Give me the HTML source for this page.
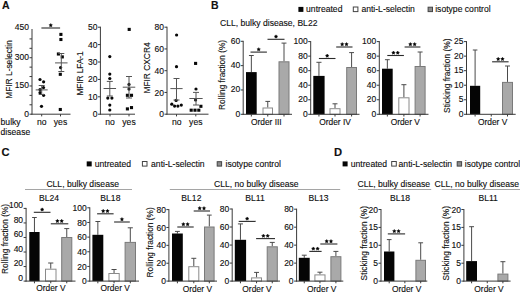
<!DOCTYPE html>
<html><head><meta charset="utf-8"><title>Figure</title>
<style>
html,body{margin:0;padding:0;background:#fff;}
body{width:520px;height:294px;overflow:hidden;}
svg{display:block;}
text{font-family:"Liberation Sans", sans-serif;stroke:#000;stroke-width:0.12px;}
</style></head>
<body>
<svg width="520" height="294" viewBox="0 0 520 294">
<rect x="0" y="0" width="520" height="294" fill="#fff"/>
<text x="1.90" y="9.10" font-size="10.5" text-anchor="start" font-weight="bold" fill="#111">A</text>
<text x="210.90" y="9.10" font-size="10.5" text-anchor="start" font-weight="bold" fill="#111">B</text>
<text x="1.60" y="155.80" font-size="11.2" text-anchor="start" font-weight="bold" fill="#111">C</text>
<text x="333.90" y="155.80" font-size="11.2" text-anchor="start" font-weight="bold" fill="#111">D</text>
<line x1="32.00" y1="29.00" x2="32.00" y2="114.70" stroke="#3a3a3a" stroke-width="1.0"/>
<line x1="29.50" y1="114.20" x2="32.00" y2="114.20" stroke="#3a3a3a" stroke-width="1.0"/>
<text x="29.00" y="116.56" font-size="8.5" text-anchor="end" font-weight="normal" fill="#111">0</text>
<line x1="29.50" y1="104.79" x2="32.00" y2="104.79" stroke="#3a3a3a" stroke-width="1.0"/>
<line x1="29.50" y1="95.38" x2="32.00" y2="95.38" stroke="#3a3a3a" stroke-width="1.0"/>
<line x1="29.50" y1="85.97" x2="32.00" y2="85.97" stroke="#3a3a3a" stroke-width="1.0"/>
<text x="29.00" y="88.33" font-size="8.5" text-anchor="end" font-weight="normal" fill="#111">150</text>
<line x1="29.50" y1="76.56" x2="32.00" y2="76.56" stroke="#3a3a3a" stroke-width="1.0"/>
<line x1="29.50" y1="67.14" x2="32.00" y2="67.14" stroke="#3a3a3a" stroke-width="1.0"/>
<line x1="29.50" y1="57.73" x2="32.00" y2="57.73" stroke="#3a3a3a" stroke-width="1.0"/>
<text x="29.00" y="60.09" font-size="8.5" text-anchor="end" font-weight="normal" fill="#111">300</text>
<line x1="29.50" y1="48.32" x2="32.00" y2="48.32" stroke="#3a3a3a" stroke-width="1.0"/>
<line x1="29.50" y1="38.91" x2="32.00" y2="38.91" stroke="#3a3a3a" stroke-width="1.0"/>
<text x="29.00" y="29.86" font-size="8.5" text-anchor="end" font-weight="normal" fill="#111">450</text>
<line x1="31.50" y1="114.20" x2="70.50" y2="114.20" stroke="#3a3a3a" stroke-width="1.0"/>
<line x1="41.70" y1="114.20" x2="41.70" y2="116.40" stroke="#3a3a3a" stroke-width="1.0"/>
<line x1="60.50" y1="114.20" x2="60.50" y2="116.40" stroke="#3a3a3a" stroke-width="1.0"/>
<text x="41.70" y="125.20" font-size="8.6" text-anchor="middle" font-weight="normal" fill="#111">no</text>
<text x="60.50" y="125.20" font-size="8.6" text-anchor="middle" font-weight="normal" fill="#111">yes</text>
<text x="0.60" y="125.40" font-size="8.6" text-anchor="start" font-weight="normal" fill="#111">bulky</text>
<text x="0.60" y="135.40" font-size="8.6" text-anchor="start" font-weight="normal" fill="#111">disease</text>
<text x="12.40" y="69.50" font-size="8.4" text-anchor="middle" font-weight="normal" fill="#111" transform="rotate(-90 12.40 69.50)">MFIR L-selectin</text>
<circle cx="40.00" cy="79.50" r="1.6" fill="#080808"/>
<circle cx="43.60" cy="81.80" r="1.6" fill="#080808"/>
<circle cx="43.50" cy="87.60" r="1.6" fill="#080808"/>
<circle cx="40.00" cy="89.60" r="1.6" fill="#080808"/>
<circle cx="40.00" cy="92.70" r="1.6" fill="#080808"/>
<circle cx="43.60" cy="95.30" r="1.6" fill="#080808"/>
<circle cx="41.50" cy="106.30" r="1.6" fill="#080808"/>
<line x1="35.70" y1="89.90" x2="47.70" y2="89.90" stroke="#555" stroke-width="1.0"/>
<line x1="41.70" y1="85.50" x2="41.70" y2="94.50" stroke="#555" stroke-width="1.0"/>
<line x1="38.70" y1="85.50" x2="44.70" y2="85.50" stroke="#555" stroke-width="1.0"/>
<line x1="38.70" y1="94.50" x2="44.70" y2="94.50" stroke="#555" stroke-width="1.0"/>
<rect x="59.35" y="32.85" width="3.1" height="3.1" fill="#080808"/>
<rect x="59.35" y="37.95" width="3.1" height="3.1" fill="#080808"/>
<rect x="56.85" y="52.45" width="3.1" height="3.1" fill="#080808"/>
<rect x="60.75" y="55.35" width="3.1" height="3.1" fill="#080808"/>
<rect x="58.75" y="72.75" width="3.1" height="3.1" fill="#080808"/>
<rect x="58.75" y="107.95" width="3.1" height="3.1" fill="#080808"/>
<circle cx="60.60" cy="67.60" r="1.6" fill="#080808"/>
<line x1="55.05" y1="62.90" x2="67.55" y2="62.90" stroke="#555" stroke-width="1.0"/>
<line x1="61.30" y1="53.50" x2="61.30" y2="71.50" stroke="#555" stroke-width="1.0"/>
<line x1="58.30" y1="53.50" x2="64.30" y2="53.50" stroke="#555" stroke-width="1.0"/>
<line x1="58.30" y1="71.50" x2="64.30" y2="71.50" stroke="#555" stroke-width="1.0"/>
<line x1="41.40" y1="28.00" x2="60.10" y2="28.00" stroke="#2a2a2a" stroke-width="1.1"/>
<polygon points="50.75,23.55 51.28,24.57 52.41,24.76 51.61,25.58 51.78,26.72 50.75,26.20 49.72,26.72 49.89,25.58 49.09,24.76 50.22,24.57" fill="#000" stroke="#000" stroke-width="0.5" stroke-linejoin="round"/>
<line x1="100.40" y1="26.70" x2="100.40" y2="114.70" stroke="#3a3a3a" stroke-width="1.0"/>
<line x1="97.90" y1="114.20" x2="100.40" y2="114.20" stroke="#3a3a3a" stroke-width="1.0"/>
<text x="97.40" y="117.26" font-size="8.5" text-anchor="end" font-weight="normal" fill="#111">0</text>
<line x1="97.90" y1="96.80" x2="100.40" y2="96.80" stroke="#3a3a3a" stroke-width="1.0"/>
<text x="97.40" y="99.86" font-size="8.5" text-anchor="end" font-weight="normal" fill="#111">10</text>
<line x1="97.90" y1="79.40" x2="100.40" y2="79.40" stroke="#3a3a3a" stroke-width="1.0"/>
<text x="97.40" y="82.46" font-size="8.5" text-anchor="end" font-weight="normal" fill="#111">20</text>
<line x1="97.90" y1="62.00" x2="100.40" y2="62.00" stroke="#3a3a3a" stroke-width="1.0"/>
<text x="97.40" y="65.06" font-size="8.5" text-anchor="end" font-weight="normal" fill="#111">30</text>
<line x1="97.90" y1="44.60" x2="100.40" y2="44.60" stroke="#3a3a3a" stroke-width="1.0"/>
<text x="97.40" y="47.66" font-size="8.5" text-anchor="end" font-weight="normal" fill="#111">40</text>
<line x1="97.90" y1="27.20" x2="100.40" y2="27.20" stroke="#3a3a3a" stroke-width="1.0"/>
<text x="97.40" y="30.26" font-size="8.5" text-anchor="end" font-weight="normal" fill="#111">50</text>
<line x1="99.90" y1="114.20" x2="135.00" y2="114.20" stroke="#3a3a3a" stroke-width="1.0"/>
<line x1="110.00" y1="114.20" x2="110.00" y2="116.40" stroke="#3a3a3a" stroke-width="1.0"/>
<line x1="129.00" y1="114.20" x2="129.00" y2="116.40" stroke="#3a3a3a" stroke-width="1.0"/>
<text x="110.00" y="125.20" font-size="8.6" text-anchor="middle" font-weight="normal" fill="#111">no</text>
<text x="129.00" y="125.20" font-size="8.6" text-anchor="middle" font-weight="normal" fill="#111">yes</text>
<text x="83.30" y="73.40" font-size="8.2" text-anchor="middle" font-weight="normal" fill="#111" transform="rotate(-90 83.30 73.40)">MFIR LFA-1</text>
<circle cx="109.80" cy="56.60" r="1.6" fill="#080808"/>
<circle cx="109.80" cy="74.10" r="1.6" fill="#080808"/>
<circle cx="109.80" cy="78.50" r="1.6" fill="#080808"/>
<circle cx="107.80" cy="98.10" r="1.6" fill="#080808"/>
<circle cx="111.90" cy="98.10" r="1.6" fill="#080808"/>
<circle cx="109.80" cy="105.10" r="1.6" fill="#080808"/>
<circle cx="109.80" cy="110.00" r="1.6" fill="#080808"/>
<line x1="103.55" y1="88.50" x2="116.05" y2="88.50" stroke="#555" stroke-width="1.0"/>
<line x1="109.80" y1="81.40" x2="109.80" y2="96.00" stroke="#555" stroke-width="1.0"/>
<line x1="106.80" y1="81.40" x2="112.80" y2="81.40" stroke="#555" stroke-width="1.0"/>
<line x1="106.80" y1="96.00" x2="112.80" y2="96.00" stroke="#555" stroke-width="1.0"/>
<rect x="127.65" y="27.85" width="3.1" height="3.1" fill="#080808"/>
<rect x="125.85" y="93.75" width="3.1" height="3.1" fill="#080808"/>
<rect x="129.95" y="93.75" width="3.1" height="3.1" fill="#080808"/>
<rect x="125.85" y="107.35" width="3.1" height="3.1" fill="#080808"/>
<rect x="129.95" y="106.05" width="3.1" height="3.1" fill="#080808"/>
<circle cx="129.00" cy="84.40" r="1.6" fill="#080808"/>
<circle cx="129.00" cy="89.10" r="1.6" fill="#080808"/>
<line x1="122.75" y1="87.20" x2="135.25" y2="87.20" stroke="#555" stroke-width="1.0"/>
<line x1="129.00" y1="76.50" x2="129.00" y2="98.00" stroke="#555" stroke-width="1.0"/>
<line x1="126.00" y1="76.50" x2="132.00" y2="76.50" stroke="#555" stroke-width="1.0"/>
<line x1="126.00" y1="98.00" x2="132.00" y2="98.00" stroke="#555" stroke-width="1.0"/>
<line x1="167.00" y1="26.70" x2="167.00" y2="114.70" stroke="#3a3a3a" stroke-width="1.0"/>
<line x1="164.50" y1="114.20" x2="167.00" y2="114.20" stroke="#3a3a3a" stroke-width="1.0"/>
<text x="164.00" y="117.26" font-size="8.5" text-anchor="end" font-weight="normal" fill="#111">0</text>
<line x1="164.50" y1="92.45" x2="167.00" y2="92.45" stroke="#3a3a3a" stroke-width="1.0"/>
<text x="164.00" y="95.51" font-size="8.5" text-anchor="end" font-weight="normal" fill="#111">20</text>
<line x1="164.50" y1="70.70" x2="167.00" y2="70.70" stroke="#3a3a3a" stroke-width="1.0"/>
<text x="164.00" y="73.76" font-size="8.5" text-anchor="end" font-weight="normal" fill="#111">40</text>
<line x1="164.50" y1="48.95" x2="167.00" y2="48.95" stroke="#3a3a3a" stroke-width="1.0"/>
<text x="164.00" y="52.01" font-size="8.5" text-anchor="end" font-weight="normal" fill="#111">60</text>
<line x1="164.50" y1="27.20" x2="167.00" y2="27.20" stroke="#3a3a3a" stroke-width="1.0"/>
<text x="164.00" y="30.26" font-size="8.5" text-anchor="end" font-weight="normal" fill="#111">80</text>
<line x1="166.50" y1="114.20" x2="208.50" y2="114.20" stroke="#3a3a3a" stroke-width="1.0"/>
<line x1="176.50" y1="114.20" x2="176.50" y2="116.40" stroke="#3a3a3a" stroke-width="1.0"/>
<line x1="195.80" y1="114.20" x2="195.80" y2="116.40" stroke="#3a3a3a" stroke-width="1.0"/>
<text x="176.80" y="125.20" font-size="8.6" text-anchor="middle" font-weight="normal" fill="#111">no</text>
<text x="195.80" y="125.20" font-size="8.6" text-anchor="middle" font-weight="normal" fill="#111">yes</text>
<text x="150.00" y="68.00" font-size="8.4" text-anchor="middle" font-weight="normal" fill="#111" transform="rotate(-90 150.00 68.00)">MFIR CXCR4</text>
<circle cx="176.60" cy="35.00" r="1.6" fill="#080808"/>
<circle cx="176.50" cy="66.70" r="1.6" fill="#080808"/>
<circle cx="176.10" cy="100.40" r="1.6" fill="#080808"/>
<circle cx="171.80" cy="104.20" r="1.6" fill="#080808"/>
<circle cx="174.60" cy="106.10" r="1.6" fill="#080808"/>
<circle cx="177.90" cy="106.10" r="1.6" fill="#080808"/>
<circle cx="181.30" cy="105.10" r="1.6" fill="#080808"/>
<line x1="170.40" y1="88.60" x2="182.60" y2="88.60" stroke="#555" stroke-width="1.0"/>
<line x1="176.50" y1="78.50" x2="176.50" y2="100.00" stroke="#555" stroke-width="1.0"/>
<line x1="173.50" y1="78.50" x2="179.50" y2="78.50" stroke="#555" stroke-width="1.0"/>
<line x1="173.50" y1="100.00" x2="179.50" y2="100.00" stroke="#555" stroke-width="1.0"/>
<rect x="194.05" y="61.85" width="3.1" height="3.1" fill="#080808"/>
<rect x="199.35" y="104.75" width="3.1" height="3.1" fill="#080808"/>
<rect x="189.65" y="108.65" width="3.1" height="3.1" fill="#080808"/>
<rect x="193.45" y="108.65" width="3.1" height="3.1" fill="#080808"/>
<rect x="197.25" y="108.65" width="3.1" height="3.1" fill="#080808"/>
<circle cx="196.00" cy="89.00" r="1.6" fill="#080808"/>
<circle cx="195.60" cy="100.00" r="1.6" fill="#080808"/>
<line x1="189.35" y1="98.50" x2="202.65" y2="98.50" stroke="#555" stroke-width="1.0"/>
<line x1="196.00" y1="92.40" x2="196.00" y2="105.00" stroke="#555" stroke-width="1.0"/>
<line x1="193.00" y1="92.40" x2="199.00" y2="92.40" stroke="#555" stroke-width="1.0"/>
<line x1="193.00" y1="105.00" x2="199.00" y2="105.00" stroke="#555" stroke-width="1.0"/>
<rect x="298.40" y="6.90" width="5.00" height="5.00" fill="#050505"/>
<text x="306.10" y="11.90" font-size="8.6" text-anchor="start" font-weight="normal" fill="#111">untreated</text>
<rect x="353.30" y="7.00" width="4.60" height="4.60" fill="#fff" stroke="#444" stroke-width="1.0"/>
<text x="361.40" y="11.90" font-size="8.6" text-anchor="start" font-weight="normal" fill="#111">anti-L-selectin</text>
<rect x="428.10" y="7.20" width="4.40" height="4.40" fill="#8c8c8c" stroke="#444" stroke-width="1.0"/>
<text x="435.20" y="11.90" font-size="8.6" text-anchor="start" font-weight="normal" fill="#111">isotype control</text>
<text x="220.00" y="25.80" font-size="8.6" text-anchor="start" font-weight="normal" fill="#111">CLL, bulky disease, BL22</text>
<line x1="243.20" y1="40.80" x2="243.20" y2="114.80" stroke="#3a3a3a" stroke-width="1.0"/>
<line x1="240.70" y1="114.30" x2="243.20" y2="114.30" stroke="#3a3a3a" stroke-width="1.0"/>
<text x="240.20" y="116.76" font-size="8.5" text-anchor="end" font-weight="normal" fill="#111">0</text>
<line x1="240.70" y1="89.97" x2="243.20" y2="89.97" stroke="#3a3a3a" stroke-width="1.0"/>
<text x="240.20" y="92.43" font-size="8.5" text-anchor="end" font-weight="normal" fill="#111">20</text>
<line x1="240.70" y1="65.63" x2="243.20" y2="65.63" stroke="#3a3a3a" stroke-width="1.0"/>
<text x="240.20" y="68.09" font-size="8.5" text-anchor="end" font-weight="normal" fill="#111">40</text>
<line x1="240.70" y1="41.30" x2="243.20" y2="41.30" stroke="#3a3a3a" stroke-width="1.0"/>
<text x="240.20" y="43.76" font-size="8.5" text-anchor="end" font-weight="normal" fill="#111">60</text>
<line x1="251.35" y1="55.50" x2="251.35" y2="72.10" stroke="#4a4a4a" stroke-width="1.0"/>
<line x1="248.94" y1="55.50" x2="253.76" y2="55.50" stroke="#4a4a4a" stroke-width="1.0"/>
<rect x="246.00" y="72.10" width="10.70" height="42.20" fill="#050505"/>
<line x1="267.75" y1="101.40" x2="267.75" y2="107.50" stroke="#4a4a4a" stroke-width="1.0"/>
<line x1="265.39" y1="101.40" x2="270.11" y2="101.40" stroke="#4a4a4a" stroke-width="1.0"/>
<rect x="263.00" y="108.00" width="9.50" height="6.30" fill="#fff" stroke="#8a8a8a" stroke-width="1.0"/>
<line x1="284.00" y1="43.10" x2="284.00" y2="61.30" stroke="#4a4a4a" stroke-width="1.0"/>
<line x1="281.52" y1="43.10" x2="286.48" y2="43.10" stroke="#4a4a4a" stroke-width="1.0"/>
<rect x="279.00" y="61.80" width="10.00" height="52.50" fill="#a9a9a9" stroke="#7a7a7a" stroke-width="1.0"/>
<line x1="242.70" y1="114.30" x2="292.00" y2="114.30" stroke="#3a3a3a" stroke-width="1.0"/>
<line x1="251.35" y1="114.30" x2="251.35" y2="116.50" stroke="#3a3a3a" stroke-width="1.0"/>
<line x1="267.75" y1="114.30" x2="267.75" y2="116.50" stroke="#3a3a3a" stroke-width="1.0"/>
<line x1="284.00" y1="114.30" x2="284.00" y2="116.50" stroke="#3a3a3a" stroke-width="1.0"/>
<line x1="250.50" y1="52.10" x2="266.90" y2="52.10" stroke="#2a2a2a" stroke-width="1.1"/>
<polygon points="258.70,47.65 259.23,48.67 260.36,48.86 259.56,49.68 259.73,50.82 258.70,50.30 257.67,50.82 257.84,49.68 257.04,48.86 258.17,48.67" fill="#000" stroke="#000" stroke-width="0.5" stroke-linejoin="round"/>
<line x1="267.50" y1="39.30" x2="284.50" y2="39.30" stroke="#2a2a2a" stroke-width="1.1"/>
<polygon points="276.00,34.85 276.53,35.87 277.66,36.06 276.86,36.88 277.03,38.02 276.00,37.50 274.97,38.02 275.14,36.88 274.34,36.06 275.47,35.87" fill="#000" stroke="#000" stroke-width="0.5" stroke-linejoin="round"/>
<text x="266.30" y="124.60" font-size="8.4" text-anchor="middle" font-weight="normal" fill="#111">Order III</text>
<text x="225.40" y="75.00" font-size="8.3" text-anchor="middle" font-weight="normal" fill="#111" transform="rotate(-90 225.40 75.00)">Rolling fraction (%)</text>
<line x1="310.70" y1="41.10" x2="310.70" y2="114.80" stroke="#3a3a3a" stroke-width="1.0"/>
<line x1="308.20" y1="114.30" x2="310.70" y2="114.30" stroke="#3a3a3a" stroke-width="1.0"/>
<text x="307.70" y="116.76" font-size="8.5" text-anchor="end" font-weight="normal" fill="#111">0</text>
<line x1="308.20" y1="99.76" x2="310.70" y2="99.76" stroke="#3a3a3a" stroke-width="1.0"/>
<text x="307.70" y="102.22" font-size="8.5" text-anchor="end" font-weight="normal" fill="#111">20</text>
<line x1="308.20" y1="85.22" x2="310.70" y2="85.22" stroke="#3a3a3a" stroke-width="1.0"/>
<text x="307.70" y="87.68" font-size="8.5" text-anchor="end" font-weight="normal" fill="#111">40</text>
<line x1="308.20" y1="70.68" x2="310.70" y2="70.68" stroke="#3a3a3a" stroke-width="1.0"/>
<text x="307.70" y="73.14" font-size="8.5" text-anchor="end" font-weight="normal" fill="#111">60</text>
<line x1="308.20" y1="56.14" x2="310.70" y2="56.14" stroke="#3a3a3a" stroke-width="1.0"/>
<text x="307.70" y="58.60" font-size="8.5" text-anchor="end" font-weight="normal" fill="#111">80</text>
<line x1="308.20" y1="41.60" x2="310.70" y2="41.60" stroke="#3a3a3a" stroke-width="1.0"/>
<text x="307.70" y="44.06" font-size="8.5" text-anchor="end" font-weight="normal" fill="#111">100</text>
<line x1="318.95" y1="62.30" x2="318.95" y2="75.90" stroke="#4a4a4a" stroke-width="1.0"/>
<line x1="316.41" y1="62.30" x2="321.49" y2="62.30" stroke="#4a4a4a" stroke-width="1.0"/>
<rect x="313.30" y="75.90" width="11.30" height="38.40" fill="#050505"/>
<line x1="335.00" y1="103.80" x2="335.00" y2="108.20" stroke="#4a4a4a" stroke-width="1.0"/>
<line x1="332.52" y1="103.80" x2="337.48" y2="103.80" stroke="#4a4a4a" stroke-width="1.0"/>
<rect x="330.00" y="108.70" width="10.00" height="5.60" fill="#fff" stroke="#8a8a8a" stroke-width="1.0"/>
<line x1="351.60" y1="52.60" x2="351.60" y2="67.00" stroke="#4a4a4a" stroke-width="1.0"/>
<line x1="349.17" y1="52.60" x2="354.03" y2="52.60" stroke="#4a4a4a" stroke-width="1.0"/>
<rect x="346.70" y="67.50" width="9.80" height="46.80" fill="#a9a9a9" stroke="#7a7a7a" stroke-width="1.0"/>
<line x1="310.20" y1="114.30" x2="359.50" y2="114.30" stroke="#3a3a3a" stroke-width="1.0"/>
<line x1="318.95" y1="114.30" x2="318.95" y2="116.50" stroke="#3a3a3a" stroke-width="1.0"/>
<line x1="335.00" y1="114.30" x2="335.00" y2="116.50" stroke="#3a3a3a" stroke-width="1.0"/>
<line x1="351.60" y1="114.30" x2="351.60" y2="116.50" stroke="#3a3a3a" stroke-width="1.0"/>
<line x1="318.90" y1="58.50" x2="335.50" y2="58.50" stroke="#2a2a2a" stroke-width="1.1"/>
<polygon points="327.20,54.05 327.73,55.07 328.86,55.26 328.06,56.08 328.23,57.22 327.20,56.70 326.17,57.22 326.34,56.08 325.54,55.26 326.67,55.07" fill="#000" stroke="#000" stroke-width="0.5" stroke-linejoin="round"/>
<line x1="336.20" y1="47.00" x2="352.50" y2="47.00" stroke="#2a2a2a" stroke-width="1.1"/>
<polygon points="342.20,42.55 342.73,43.57 343.86,43.76 343.06,44.58 343.23,45.72 342.20,45.20 341.17,45.72 341.34,44.58 340.54,43.76 341.67,43.57" fill="#000" stroke="#000" stroke-width="0.5" stroke-linejoin="round"/>
<polygon points="346.50,42.55 347.03,43.57 348.16,43.76 347.36,44.58 347.53,45.72 346.50,45.20 345.47,45.72 345.64,44.58 344.84,43.76 345.97,43.57" fill="#000" stroke="#000" stroke-width="0.5" stroke-linejoin="round"/>
<text x="335.00" y="124.60" font-size="8.4" text-anchor="middle" font-weight="normal" fill="#111">Order IV</text>
<line x1="379.30" y1="41.10" x2="379.30" y2="114.80" stroke="#3a3a3a" stroke-width="1.0"/>
<line x1="376.80" y1="114.30" x2="379.30" y2="114.30" stroke="#3a3a3a" stroke-width="1.0"/>
<text x="376.30" y="116.76" font-size="8.5" text-anchor="end" font-weight="normal" fill="#111">0</text>
<line x1="376.80" y1="99.76" x2="379.30" y2="99.76" stroke="#3a3a3a" stroke-width="1.0"/>
<text x="376.30" y="102.22" font-size="8.5" text-anchor="end" font-weight="normal" fill="#111">20</text>
<line x1="376.80" y1="85.22" x2="379.30" y2="85.22" stroke="#3a3a3a" stroke-width="1.0"/>
<text x="376.30" y="87.68" font-size="8.5" text-anchor="end" font-weight="normal" fill="#111">40</text>
<line x1="376.80" y1="70.68" x2="379.30" y2="70.68" stroke="#3a3a3a" stroke-width="1.0"/>
<text x="376.30" y="73.14" font-size="8.5" text-anchor="end" font-weight="normal" fill="#111">60</text>
<line x1="376.80" y1="56.14" x2="379.30" y2="56.14" stroke="#3a3a3a" stroke-width="1.0"/>
<text x="376.30" y="58.60" font-size="8.5" text-anchor="end" font-weight="normal" fill="#111">80</text>
<line x1="376.80" y1="41.60" x2="379.30" y2="41.60" stroke="#3a3a3a" stroke-width="1.0"/>
<text x="376.30" y="44.06" font-size="8.5" text-anchor="end" font-weight="normal" fill="#111">100</text>
<line x1="387.35" y1="59.70" x2="387.35" y2="68.70" stroke="#4a4a4a" stroke-width="1.0"/>
<line x1="384.94" y1="59.70" x2="389.76" y2="59.70" stroke="#4a4a4a" stroke-width="1.0"/>
<rect x="382.00" y="68.70" width="10.70" height="45.60" fill="#050505"/>
<line x1="403.90" y1="84.70" x2="403.90" y2="97.30" stroke="#4a4a4a" stroke-width="1.0"/>
<line x1="401.38" y1="84.70" x2="406.42" y2="84.70" stroke="#4a4a4a" stroke-width="1.0"/>
<rect x="398.80" y="97.80" width="10.20" height="16.50" fill="#fff" stroke="#8a8a8a" stroke-width="1.0"/>
<line x1="420.10" y1="52.00" x2="420.10" y2="66.00" stroke="#4a4a4a" stroke-width="1.0"/>
<line x1="417.62" y1="52.00" x2="422.58" y2="52.00" stroke="#4a4a4a" stroke-width="1.0"/>
<rect x="415.10" y="66.50" width="10.00" height="47.80" fill="#a9a9a9" stroke="#7a7a7a" stroke-width="1.0"/>
<line x1="378.80" y1="114.30" x2="428.50" y2="114.30" stroke="#3a3a3a" stroke-width="1.0"/>
<line x1="387.35" y1="114.30" x2="387.35" y2="116.50" stroke="#3a3a3a" stroke-width="1.0"/>
<line x1="403.90" y1="114.30" x2="403.90" y2="116.50" stroke="#3a3a3a" stroke-width="1.0"/>
<line x1="420.10" y1="114.30" x2="420.10" y2="116.50" stroke="#3a3a3a" stroke-width="1.0"/>
<line x1="387.30" y1="55.50" x2="403.90" y2="55.50" stroke="#2a2a2a" stroke-width="1.1"/>
<polygon points="393.45,51.05 393.98,52.07 395.11,52.26 394.31,53.08 394.48,54.22 393.45,53.70 392.42,54.22 392.59,53.08 391.79,52.26 392.92,52.07" fill="#000" stroke="#000" stroke-width="0.5" stroke-linejoin="round"/>
<polygon points="397.75,51.05 398.28,52.07 399.41,52.26 398.61,53.08 398.78,54.22 397.75,53.70 396.72,54.22 396.89,53.08 396.09,52.26 397.22,52.07" fill="#000" stroke="#000" stroke-width="0.5" stroke-linejoin="round"/>
<line x1="404.60" y1="47.00" x2="420.40" y2="47.00" stroke="#2a2a2a" stroke-width="1.1"/>
<polygon points="410.35,42.55 410.88,43.57 412.01,43.76 411.21,44.58 411.38,45.72 410.35,45.20 409.32,45.72 409.49,44.58 408.69,43.76 409.82,43.57" fill="#000" stroke="#000" stroke-width="0.5" stroke-linejoin="round"/>
<polygon points="414.65,42.55 415.18,43.57 416.31,43.76 415.51,44.58 415.68,45.72 414.65,45.20 413.62,45.72 413.79,44.58 412.99,43.76 414.12,43.57" fill="#000" stroke="#000" stroke-width="0.5" stroke-linejoin="round"/>
<text x="405.30" y="124.60" font-size="8.4" text-anchor="middle" font-weight="normal" fill="#111">Order V</text>
<line x1="466.50" y1="41.10" x2="466.50" y2="114.80" stroke="#3a3a3a" stroke-width="1.0"/>
<line x1="464.00" y1="114.30" x2="466.50" y2="114.30" stroke="#3a3a3a" stroke-width="1.0"/>
<text x="463.50" y="116.76" font-size="8.5" text-anchor="end" font-weight="normal" fill="#111">0</text>
<line x1="464.00" y1="99.76" x2="466.50" y2="99.76" stroke="#3a3a3a" stroke-width="1.0"/>
<text x="463.50" y="102.22" font-size="8.5" text-anchor="end" font-weight="normal" fill="#111">5</text>
<line x1="464.00" y1="85.22" x2="466.50" y2="85.22" stroke="#3a3a3a" stroke-width="1.0"/>
<text x="463.50" y="87.68" font-size="8.5" text-anchor="end" font-weight="normal" fill="#111">10</text>
<line x1="464.00" y1="70.68" x2="466.50" y2="70.68" stroke="#3a3a3a" stroke-width="1.0"/>
<text x="463.50" y="73.14" font-size="8.5" text-anchor="end" font-weight="normal" fill="#111">15</text>
<line x1="464.00" y1="56.14" x2="466.50" y2="56.14" stroke="#3a3a3a" stroke-width="1.0"/>
<text x="463.50" y="58.60" font-size="8.5" text-anchor="end" font-weight="normal" fill="#111">20</text>
<line x1="464.00" y1="41.60" x2="466.50" y2="41.60" stroke="#3a3a3a" stroke-width="1.0"/>
<text x="463.50" y="44.06" font-size="8.5" text-anchor="end" font-weight="normal" fill="#111">25</text>
<line x1="475.10" y1="50.00" x2="475.10" y2="85.80" stroke="#4a4a4a" stroke-width="1.0"/>
<line x1="472.81" y1="50.00" x2="477.40" y2="50.00" stroke="#4a4a4a" stroke-width="1.0"/>
<rect x="470.00" y="85.80" width="10.20" height="28.50" fill="#050505"/>
<rect x="486.50" y="114.80" width="9.50" height="-0.50" fill="#fff" stroke="#8a8a8a" stroke-width="1.0"/>
<line x1="507.50" y1="66.00" x2="507.50" y2="81.90" stroke="#4a4a4a" stroke-width="1.0"/>
<line x1="505.02" y1="66.00" x2="509.98" y2="66.00" stroke="#4a4a4a" stroke-width="1.0"/>
<rect x="502.50" y="82.40" width="10.00" height="31.90" fill="#a9a9a9" stroke="#7a7a7a" stroke-width="1.0"/>
<line x1="466.00" y1="114.30" x2="515.70" y2="114.30" stroke="#3a3a3a" stroke-width="1.0"/>
<line x1="475.10" y1="114.30" x2="475.10" y2="116.50" stroke="#3a3a3a" stroke-width="1.0"/>
<line x1="491.25" y1="114.30" x2="491.25" y2="116.50" stroke="#3a3a3a" stroke-width="1.0"/>
<line x1="507.50" y1="114.30" x2="507.50" y2="116.50" stroke="#3a3a3a" stroke-width="1.0"/>
<line x1="492.10" y1="61.80" x2="508.60" y2="61.80" stroke="#2a2a2a" stroke-width="1.1"/>
<polygon points="498.20,57.35 498.73,58.37 499.86,58.56 499.06,59.38 499.23,60.52 498.20,60.00 497.17,60.52 497.34,59.38 496.54,58.56 497.67,58.37" fill="#000" stroke="#000" stroke-width="0.5" stroke-linejoin="round"/>
<polygon points="502.50,57.35 503.03,58.37 504.16,58.56 503.36,59.38 503.53,60.52 502.50,60.00 501.47,60.52 501.64,59.38 500.84,58.56 501.97,58.37" fill="#000" stroke="#000" stroke-width="0.5" stroke-linejoin="round"/>
<text x="492.60" y="124.60" font-size="8.4" text-anchor="middle" font-weight="normal" fill="#111">Order V</text>
<text x="449.80" y="75.70" font-size="8.4" text-anchor="middle" font-weight="normal" fill="#111" transform="rotate(-90 449.80 75.70)">Sticking fraction (%)</text>
<rect x="86.70" y="161.40" width="5.00" height="5.00" fill="#050505"/>
<text x="94.70" y="166.90" font-size="8.6" text-anchor="start" font-weight="normal" fill="#111">untreated</text>
<rect x="142.40" y="161.50" width="4.60" height="4.60" fill="#fff" stroke="#444" stroke-width="1.0"/>
<text x="151.10" y="166.90" font-size="8.6" text-anchor="start" font-weight="normal" fill="#111">anti-L-selectin</text>
<rect x="217.20" y="161.70" width="4.40" height="4.40" fill="#8c8c8c" stroke="#444" stroke-width="1.0"/>
<text x="225.50" y="166.90" font-size="8.6" text-anchor="start" font-weight="normal" fill="#111">isotype control</text>
<text x="82.70" y="187.00" font-size="8.6" text-anchor="middle" font-weight="normal" fill="#111">CLL, bulky disease</text>
<line x1="25.00" y1="189.50" x2="132.00" y2="189.50" stroke="#a5a5a5" stroke-width="1.0"/>
<text x="256.30" y="187.00" font-size="8.6" text-anchor="middle" font-weight="normal" fill="#111">CLL, no bulky disease</text>
<line x1="169.80" y1="189.50" x2="340.20" y2="189.50" stroke="#a5a5a5" stroke-width="1.0"/>
<text x="49.00" y="200.60" font-size="8.6" text-anchor="middle" font-weight="normal" fill="#111">BL24</text>
<line x1="26.10" y1="207.90" x2="26.10" y2="281.60" stroke="#3a3a3a" stroke-width="1.0"/>
<line x1="23.60" y1="281.10" x2="26.10" y2="281.10" stroke="#3a3a3a" stroke-width="1.0"/>
<text x="23.10" y="280.76" font-size="8.5" text-anchor="end" font-weight="normal" fill="#111">0</text>
<line x1="23.60" y1="266.56" x2="26.10" y2="266.56" stroke="#3a3a3a" stroke-width="1.0"/>
<text x="23.10" y="266.22" font-size="8.5" text-anchor="end" font-weight="normal" fill="#111">20</text>
<line x1="23.60" y1="252.02" x2="26.10" y2="252.02" stroke="#3a3a3a" stroke-width="1.0"/>
<text x="23.10" y="251.68" font-size="8.5" text-anchor="end" font-weight="normal" fill="#111">40</text>
<line x1="23.60" y1="237.48" x2="26.10" y2="237.48" stroke="#3a3a3a" stroke-width="1.0"/>
<text x="23.10" y="237.14" font-size="8.5" text-anchor="end" font-weight="normal" fill="#111">60</text>
<line x1="23.60" y1="222.94" x2="26.10" y2="222.94" stroke="#3a3a3a" stroke-width="1.0"/>
<text x="23.10" y="222.60" font-size="8.5" text-anchor="end" font-weight="normal" fill="#111">80</text>
<line x1="23.60" y1="208.40" x2="26.10" y2="208.40" stroke="#3a3a3a" stroke-width="1.0"/>
<text x="23.10" y="208.06" font-size="8.5" text-anchor="end" font-weight="normal" fill="#111">100</text>
<line x1="34.45" y1="217.50" x2="34.45" y2="232.00" stroke="#4a4a4a" stroke-width="1.0"/>
<line x1="32.13" y1="217.50" x2="36.77" y2="217.50" stroke="#4a4a4a" stroke-width="1.0"/>
<rect x="29.30" y="232.00" width="10.30" height="49.10" fill="#050505"/>
<line x1="50.75" y1="263.00" x2="50.75" y2="268.70" stroke="#4a4a4a" stroke-width="1.0"/>
<line x1="48.16" y1="263.00" x2="53.34" y2="263.00" stroke="#4a4a4a" stroke-width="1.0"/>
<rect x="45.50" y="269.20" width="10.50" height="11.90" fill="#fff" stroke="#8a8a8a" stroke-width="1.0"/>
<line x1="66.75" y1="228.60" x2="66.75" y2="237.00" stroke="#4a4a4a" stroke-width="1.0"/>
<line x1="64.25" y1="228.60" x2="69.25" y2="228.60" stroke="#4a4a4a" stroke-width="1.0"/>
<rect x="61.70" y="237.50" width="10.10" height="43.60" fill="#a9a9a9" stroke="#7a7a7a" stroke-width="1.0"/>
<line x1="25.60" y1="281.10" x2="75.50" y2="281.10" stroke="#3a3a3a" stroke-width="1.0"/>
<line x1="34.45" y1="281.10" x2="34.45" y2="283.30" stroke="#3a3a3a" stroke-width="1.0"/>
<line x1="50.75" y1="281.10" x2="50.75" y2="283.30" stroke="#3a3a3a" stroke-width="1.0"/>
<line x1="66.75" y1="281.10" x2="66.75" y2="283.30" stroke="#3a3a3a" stroke-width="1.0"/>
<line x1="33.80" y1="212.30" x2="50.50" y2="212.30" stroke="#2a2a2a" stroke-width="1.1"/>
<polygon points="42.15,207.85 42.68,208.87 43.81,209.06 43.01,209.88 43.18,211.02 42.15,210.50 41.12,211.02 41.29,209.88 40.49,209.06 41.62,208.87" fill="#000" stroke="#000" stroke-width="0.5" stroke-linejoin="round"/>
<line x1="50.80" y1="223.80" x2="68.30" y2="223.80" stroke="#2a2a2a" stroke-width="1.1"/>
<polygon points="57.40,219.35 57.93,220.37 59.06,220.56 58.26,221.38 58.43,222.52 57.40,222.00 56.37,222.52 56.54,221.38 55.74,220.56 56.87,220.37" fill="#000" stroke="#000" stroke-width="0.5" stroke-linejoin="round"/>
<polygon points="61.70,219.35 62.23,220.37 63.36,220.56 62.56,221.38 62.73,222.52 61.70,222.00 60.67,222.52 60.84,221.38 60.04,220.56 61.17,220.37" fill="#000" stroke="#000" stroke-width="0.5" stroke-linejoin="round"/>
<text x="50.90" y="291.40" font-size="8.4" text-anchor="middle" font-weight="normal" fill="#111">Order V</text>
<text x="7.60" y="239.00" font-size="8.3" text-anchor="middle" font-weight="normal" fill="#111" transform="rotate(-90 7.60 239.00)">Rolling fraction (%)</text>
<text x="110.40" y="200.60" font-size="8.6" text-anchor="middle" font-weight="normal" fill="#111">BL18</text>
<line x1="89.80" y1="207.30" x2="89.80" y2="281.60" stroke="#3a3a3a" stroke-width="1.0"/>
<line x1="87.30" y1="281.10" x2="89.80" y2="281.10" stroke="#3a3a3a" stroke-width="1.0"/>
<text x="86.80" y="284.16" font-size="8.5" text-anchor="end" font-weight="normal" fill="#111">0</text>
<line x1="87.30" y1="266.44" x2="89.80" y2="266.44" stroke="#3a3a3a" stroke-width="1.0"/>
<text x="86.80" y="269.50" font-size="8.5" text-anchor="end" font-weight="normal" fill="#111">20</text>
<line x1="87.30" y1="251.78" x2="89.80" y2="251.78" stroke="#3a3a3a" stroke-width="1.0"/>
<text x="86.80" y="254.84" font-size="8.5" text-anchor="end" font-weight="normal" fill="#111">40</text>
<line x1="87.30" y1="237.12" x2="89.80" y2="237.12" stroke="#3a3a3a" stroke-width="1.0"/>
<text x="86.80" y="240.18" font-size="8.5" text-anchor="end" font-weight="normal" fill="#111">60</text>
<line x1="87.30" y1="222.46" x2="89.80" y2="222.46" stroke="#3a3a3a" stroke-width="1.0"/>
<text x="86.80" y="225.52" font-size="8.5" text-anchor="end" font-weight="normal" fill="#111">80</text>
<line x1="87.30" y1="207.80" x2="89.80" y2="207.80" stroke="#3a3a3a" stroke-width="1.0"/>
<text x="86.80" y="210.86" font-size="8.5" text-anchor="end" font-weight="normal" fill="#111">100</text>
<line x1="97.85" y1="221.50" x2="97.85" y2="234.80" stroke="#4a4a4a" stroke-width="1.0"/>
<line x1="95.40" y1="221.50" x2="100.30" y2="221.50" stroke="#4a4a4a" stroke-width="1.0"/>
<rect x="92.40" y="234.80" width="10.90" height="46.30" fill="#050505"/>
<line x1="114.05" y1="269.50" x2="114.05" y2="273.00" stroke="#4a4a4a" stroke-width="1.0"/>
<line x1="111.51" y1="269.50" x2="116.59" y2="269.50" stroke="#4a4a4a" stroke-width="1.0"/>
<rect x="108.90" y="273.50" width="10.30" height="7.60" fill="#fff" stroke="#8a8a8a" stroke-width="1.0"/>
<line x1="130.30" y1="227.80" x2="130.30" y2="241.90" stroke="#4a4a4a" stroke-width="1.0"/>
<line x1="127.74" y1="227.80" x2="132.87" y2="227.80" stroke="#4a4a4a" stroke-width="1.0"/>
<rect x="125.10" y="242.40" width="10.40" height="38.70" fill="#a9a9a9" stroke="#7a7a7a" stroke-width="1.0"/>
<line x1="89.30" y1="281.10" x2="139.00" y2="281.10" stroke="#3a3a3a" stroke-width="1.0"/>
<line x1="97.85" y1="281.10" x2="97.85" y2="283.30" stroke="#3a3a3a" stroke-width="1.0"/>
<line x1="114.05" y1="281.10" x2="114.05" y2="283.30" stroke="#3a3a3a" stroke-width="1.0"/>
<line x1="130.30" y1="281.10" x2="130.30" y2="283.30" stroke="#3a3a3a" stroke-width="1.0"/>
<line x1="97.10" y1="213.80" x2="113.60" y2="213.80" stroke="#2a2a2a" stroke-width="1.1"/>
<polygon points="103.20,209.35 103.73,210.37 104.86,210.56 104.06,211.38 104.23,212.52 103.20,212.00 102.17,212.52 102.34,211.38 101.54,210.56 102.67,210.37" fill="#000" stroke="#000" stroke-width="0.5" stroke-linejoin="round"/>
<polygon points="107.50,209.35 108.03,210.37 109.16,210.56 108.36,211.38 108.53,212.52 107.50,212.00 106.47,212.52 106.64,211.38 105.84,210.56 106.97,210.37" fill="#000" stroke="#000" stroke-width="0.5" stroke-linejoin="round"/>
<line x1="114.10" y1="222.00" x2="129.80" y2="222.00" stroke="#2a2a2a" stroke-width="1.1"/>
<polygon points="121.95,217.55 122.48,218.57 123.61,218.76 122.81,219.58 122.98,220.72 121.95,220.20 120.92,220.72 121.09,219.58 120.29,218.76 121.42,218.57" fill="#000" stroke="#000" stroke-width="0.5" stroke-linejoin="round"/>
<text x="115.20" y="291.40" font-size="8.4" text-anchor="middle" font-weight="normal" fill="#111">Order V</text>
<text x="191.40" y="200.60" font-size="8.6" text-anchor="middle" font-weight="normal" fill="#111">BL12</text>
<line x1="168.90" y1="209.10" x2="168.90" y2="281.60" stroke="#3a3a3a" stroke-width="1.0"/>
<line x1="166.40" y1="281.10" x2="168.90" y2="281.10" stroke="#3a3a3a" stroke-width="1.0"/>
<text x="165.90" y="284.16" font-size="8.5" text-anchor="end" font-weight="normal" fill="#111">0</text>
<line x1="166.40" y1="263.23" x2="168.90" y2="263.23" stroke="#3a3a3a" stroke-width="1.0"/>
<text x="165.90" y="266.29" font-size="8.5" text-anchor="end" font-weight="normal" fill="#111">20</text>
<line x1="166.40" y1="245.35" x2="168.90" y2="245.35" stroke="#3a3a3a" stroke-width="1.0"/>
<text x="165.90" y="248.41" font-size="8.5" text-anchor="end" font-weight="normal" fill="#111">40</text>
<line x1="166.40" y1="227.47" x2="168.90" y2="227.47" stroke="#3a3a3a" stroke-width="1.0"/>
<text x="165.90" y="230.53" font-size="8.5" text-anchor="end" font-weight="normal" fill="#111">60</text>
<line x1="166.40" y1="209.60" x2="168.90" y2="209.60" stroke="#3a3a3a" stroke-width="1.0"/>
<text x="165.90" y="212.66" font-size="8.5" text-anchor="end" font-weight="normal" fill="#111">80</text>
<line x1="177.40" y1="231.40" x2="177.40" y2="233.50" stroke="#4a4a4a" stroke-width="1.0"/>
<line x1="174.97" y1="231.40" x2="179.83" y2="231.40" stroke="#4a4a4a" stroke-width="1.0"/>
<rect x="172.00" y="233.50" width="10.80" height="47.60" fill="#050505"/>
<line x1="193.80" y1="258.30" x2="193.80" y2="266.20" stroke="#4a4a4a" stroke-width="1.0"/>
<line x1="191.33" y1="258.30" x2="196.28" y2="258.30" stroke="#4a4a4a" stroke-width="1.0"/>
<rect x="188.80" y="266.70" width="10.00" height="14.40" fill="#fff" stroke="#8a8a8a" stroke-width="1.0"/>
<line x1="209.30" y1="215.10" x2="209.30" y2="226.50" stroke="#4a4a4a" stroke-width="1.0"/>
<line x1="206.92" y1="215.10" x2="211.69" y2="215.10" stroke="#4a4a4a" stroke-width="1.0"/>
<rect x="204.50" y="227.00" width="9.60" height="54.10" fill="#a9a9a9" stroke="#7a7a7a" stroke-width="1.0"/>
<line x1="168.40" y1="281.10" x2="217.00" y2="281.10" stroke="#3a3a3a" stroke-width="1.0"/>
<line x1="177.40" y1="281.10" x2="177.40" y2="283.30" stroke="#3a3a3a" stroke-width="1.0"/>
<line x1="193.80" y1="281.10" x2="193.80" y2="283.30" stroke="#3a3a3a" stroke-width="1.0"/>
<line x1="209.30" y1="281.10" x2="209.30" y2="283.30" stroke="#3a3a3a" stroke-width="1.0"/>
<line x1="177.30" y1="227.00" x2="193.70" y2="227.00" stroke="#2a2a2a" stroke-width="1.1"/>
<polygon points="183.35,222.55 183.88,223.57 185.01,223.76 184.21,224.58 184.38,225.72 183.35,225.20 182.32,225.72 182.49,224.58 181.69,223.76 182.82,223.57" fill="#000" stroke="#000" stroke-width="0.5" stroke-linejoin="round"/>
<polygon points="187.65,222.55 188.18,223.57 189.31,223.76 188.51,224.58 188.68,225.72 187.65,225.20 186.62,225.72 186.79,224.58 185.99,223.76 187.12,223.57" fill="#000" stroke="#000" stroke-width="0.5" stroke-linejoin="round"/>
<line x1="193.70" y1="211.00" x2="210.00" y2="211.00" stroke="#2a2a2a" stroke-width="1.1"/>
<polygon points="199.70,206.55 200.23,207.57 201.36,207.76 200.56,208.58 200.73,209.72 199.70,209.20 198.67,209.72 198.84,208.58 198.04,207.76 199.17,207.57" fill="#000" stroke="#000" stroke-width="0.5" stroke-linejoin="round"/>
<polygon points="204.00,206.55 204.53,207.57 205.66,207.76 204.86,208.58 205.03,209.72 204.00,209.20 202.97,209.72 203.14,208.58 202.34,207.76 203.47,207.57" fill="#000" stroke="#000" stroke-width="0.5" stroke-linejoin="round"/>
<text x="197.40" y="291.60" font-size="8.4" text-anchor="middle" font-weight="normal" fill="#111">Order V</text>
<text x="153.00" y="242.40" font-size="8.3" text-anchor="middle" font-weight="normal" fill="#111" transform="rotate(-90 153.00 242.40)">Rolling fraction (%)</text>
<text x="255.00" y="200.60" font-size="8.6" text-anchor="middle" font-weight="normal" fill="#111">BL11</text>
<line x1="232.20" y1="208.50" x2="232.20" y2="281.60" stroke="#3a3a3a" stroke-width="1.0"/>
<line x1="229.70" y1="281.10" x2="232.20" y2="281.10" stroke="#3a3a3a" stroke-width="1.0"/>
<text x="229.20" y="284.16" font-size="8.5" text-anchor="end" font-weight="normal" fill="#111">0</text>
<line x1="229.70" y1="263.08" x2="232.20" y2="263.08" stroke="#3a3a3a" stroke-width="1.0"/>
<text x="229.20" y="266.14" font-size="8.5" text-anchor="end" font-weight="normal" fill="#111">20</text>
<line x1="229.70" y1="245.05" x2="232.20" y2="245.05" stroke="#3a3a3a" stroke-width="1.0"/>
<text x="229.20" y="248.11" font-size="8.5" text-anchor="end" font-weight="normal" fill="#111">40</text>
<line x1="229.70" y1="227.03" x2="232.20" y2="227.03" stroke="#3a3a3a" stroke-width="1.0"/>
<text x="229.20" y="230.09" font-size="8.5" text-anchor="end" font-weight="normal" fill="#111">60</text>
<line x1="229.70" y1="209.00" x2="232.20" y2="209.00" stroke="#3a3a3a" stroke-width="1.0"/>
<text x="229.20" y="212.06" font-size="8.5" text-anchor="end" font-weight="normal" fill="#111">80</text>
<line x1="240.45" y1="223.90" x2="240.45" y2="239.80" stroke="#4a4a4a" stroke-width="1.0"/>
<line x1="237.91" y1="223.90" x2="242.99" y2="223.90" stroke="#4a4a4a" stroke-width="1.0"/>
<rect x="234.80" y="239.80" width="11.30" height="41.30" fill="#050505"/>
<line x1="256.55" y1="272.40" x2="256.55" y2="277.40" stroke="#4a4a4a" stroke-width="1.0"/>
<line x1="254.10" y1="272.40" x2="259.00" y2="272.40" stroke="#4a4a4a" stroke-width="1.0"/>
<rect x="251.60" y="277.90" width="9.90" height="3.20" fill="#fff" stroke="#8a8a8a" stroke-width="1.0"/>
<line x1="272.25" y1="242.40" x2="272.25" y2="246.30" stroke="#4a4a4a" stroke-width="1.0"/>
<line x1="269.75" y1="242.40" x2="274.75" y2="242.40" stroke="#4a4a4a" stroke-width="1.0"/>
<rect x="267.20" y="246.80" width="10.10" height="34.30" fill="#a9a9a9" stroke="#7a7a7a" stroke-width="1.0"/>
<line x1="231.70" y1="281.10" x2="280.00" y2="281.10" stroke="#3a3a3a" stroke-width="1.0"/>
<line x1="240.45" y1="281.10" x2="240.45" y2="283.30" stroke="#3a3a3a" stroke-width="1.0"/>
<line x1="256.55" y1="281.10" x2="256.55" y2="283.30" stroke="#3a3a3a" stroke-width="1.0"/>
<line x1="272.25" y1="281.10" x2="272.25" y2="283.30" stroke="#3a3a3a" stroke-width="1.0"/>
<line x1="238.70" y1="221.40" x2="255.60" y2="221.40" stroke="#2a2a2a" stroke-width="1.1"/>
<polygon points="247.15,216.95 247.68,217.97 248.81,218.16 248.01,218.98 248.18,220.12 247.15,219.60 246.12,220.12 246.29,218.98 245.49,218.16 246.62,217.97" fill="#000" stroke="#000" stroke-width="0.5" stroke-linejoin="round"/>
<line x1="256.10" y1="238.60" x2="275.00" y2="238.60" stroke="#2a2a2a" stroke-width="1.1"/>
<polygon points="263.40,234.15 263.93,235.17 265.06,235.36 264.26,236.18 264.43,237.32 263.40,236.80 262.37,237.32 262.54,236.18 261.74,235.36 262.87,235.17" fill="#000" stroke="#000" stroke-width="0.5" stroke-linejoin="round"/>
<polygon points="267.70,234.15 268.23,235.17 269.36,235.36 268.56,236.18 268.73,237.32 267.70,236.80 266.67,237.32 266.84,236.18 266.04,235.36 267.17,235.17" fill="#000" stroke="#000" stroke-width="0.5" stroke-linejoin="round"/>
<text x="257.00" y="291.60" font-size="8.4" text-anchor="middle" font-weight="normal" fill="#111">Order V</text>
<text x="318.50" y="200.60" font-size="8.6" text-anchor="middle" font-weight="normal" fill="#111">BL13</text>
<line x1="296.60" y1="208.70" x2="296.60" y2="281.60" stroke="#3a3a3a" stroke-width="1.0"/>
<line x1="294.10" y1="281.10" x2="296.60" y2="281.10" stroke="#3a3a3a" stroke-width="1.0"/>
<text x="293.60" y="284.16" font-size="8.5" text-anchor="end" font-weight="normal" fill="#111">0</text>
<line x1="294.10" y1="263.12" x2="296.60" y2="263.12" stroke="#3a3a3a" stroke-width="1.0"/>
<text x="293.60" y="266.19" font-size="8.5" text-anchor="end" font-weight="normal" fill="#111">20</text>
<line x1="294.10" y1="245.15" x2="296.60" y2="245.15" stroke="#3a3a3a" stroke-width="1.0"/>
<text x="293.60" y="248.21" font-size="8.5" text-anchor="end" font-weight="normal" fill="#111">40</text>
<line x1="294.10" y1="227.18" x2="296.60" y2="227.18" stroke="#3a3a3a" stroke-width="1.0"/>
<text x="293.60" y="230.24" font-size="8.5" text-anchor="end" font-weight="normal" fill="#111">60</text>
<line x1="294.10" y1="209.20" x2="296.60" y2="209.20" stroke="#3a3a3a" stroke-width="1.0"/>
<text x="293.60" y="212.26" font-size="8.5" text-anchor="end" font-weight="normal" fill="#111">80</text>
<line x1="304.25" y1="255.20" x2="304.25" y2="257.80" stroke="#4a4a4a" stroke-width="1.0"/>
<line x1="301.80" y1="255.20" x2="306.70" y2="255.20" stroke="#4a4a4a" stroke-width="1.0"/>
<rect x="298.80" y="257.80" width="10.90" height="23.30" fill="#050505"/>
<line x1="319.95" y1="272.20" x2="319.95" y2="274.40" stroke="#4a4a4a" stroke-width="1.0"/>
<line x1="317.45" y1="272.20" x2="322.45" y2="272.20" stroke="#4a4a4a" stroke-width="1.0"/>
<rect x="314.90" y="274.90" width="10.10" height="6.20" fill="#fff" stroke="#8a8a8a" stroke-width="1.0"/>
<line x1="335.90" y1="251.40" x2="335.90" y2="256.20" stroke="#4a4a4a" stroke-width="1.0"/>
<line x1="333.42" y1="251.40" x2="338.38" y2="251.40" stroke="#4a4a4a" stroke-width="1.0"/>
<rect x="330.90" y="256.70" width="10.00" height="24.40" fill="#a9a9a9" stroke="#7a7a7a" stroke-width="1.0"/>
<line x1="296.10" y1="281.10" x2="343.30" y2="281.10" stroke="#3a3a3a" stroke-width="1.0"/>
<line x1="304.25" y1="281.10" x2="304.25" y2="283.30" stroke="#3a3a3a" stroke-width="1.0"/>
<line x1="319.95" y1="281.10" x2="319.95" y2="283.30" stroke="#3a3a3a" stroke-width="1.0"/>
<line x1="335.90" y1="281.10" x2="335.90" y2="283.30" stroke="#3a3a3a" stroke-width="1.0"/>
<line x1="309.30" y1="251.40" x2="321.60" y2="251.40" stroke="#2a2a2a" stroke-width="1.1"/>
<polygon points="313.30,246.95 313.83,247.97 314.96,248.16 314.16,248.98 314.33,250.12 313.30,249.60 312.27,250.12 312.44,248.98 311.64,248.16 312.77,247.97" fill="#000" stroke="#000" stroke-width="0.5" stroke-linejoin="round"/>
<polygon points="317.60,246.95 318.13,247.97 319.26,248.16 318.46,248.98 318.63,250.12 317.60,249.60 316.57,250.12 316.74,248.98 315.94,248.16 317.07,247.97" fill="#000" stroke="#000" stroke-width="0.5" stroke-linejoin="round"/>
<line x1="320.30" y1="244.00" x2="337.40" y2="244.00" stroke="#2a2a2a" stroke-width="1.1"/>
<polygon points="326.70,239.55 327.23,240.57 328.36,240.76 327.56,241.58 327.73,242.72 326.70,242.20 325.67,242.72 325.84,241.58 325.04,240.76 326.17,240.57" fill="#000" stroke="#000" stroke-width="0.5" stroke-linejoin="round"/>
<polygon points="331.00,239.55 331.53,240.57 332.66,240.76 331.86,241.58 332.03,242.72 331.00,242.20 329.97,242.72 330.14,241.58 329.34,240.76 330.47,240.57" fill="#000" stroke="#000" stroke-width="0.5" stroke-linejoin="round"/>
<text x="321.70" y="291.60" font-size="8.4" text-anchor="middle" font-weight="normal" fill="#111">Order V</text>
<rect x="342.60" y="161.40" width="5.00" height="5.00" fill="#050505"/>
<text x="350.80" y="166.90" font-size="8.6" text-anchor="start" font-weight="normal" fill="#111">untreated</text>
<rect x="391.70" y="161.50" width="4.60" height="4.60" fill="#fff" stroke="#444" stroke-width="1.0"/>
<text x="398.60" y="166.90" font-size="8.6" text-anchor="start" font-weight="normal" fill="#111">anti-L-selectin</text>
<rect x="457.20" y="161.70" width="4.40" height="4.40" fill="#8c8c8c" stroke="#444" stroke-width="1.0"/>
<text x="464.80" y="166.90" font-size="8.6" text-anchor="start" font-weight="normal" fill="#111">isotype control</text>
<text x="393.80" y="187.00" font-size="8.6" text-anchor="middle" font-weight="normal" fill="#111">CLL, bulky disease</text>
<line x1="358.00" y1="189.50" x2="431.20" y2="189.50" stroke="#a5a5a5" stroke-width="1.0"/>
<text x="476.80" y="187.00" font-size="8.6" text-anchor="middle" font-weight="normal" fill="#111">CLL, no bulky disease</text>
<line x1="441.50" y1="189.50" x2="520.00" y2="189.50" stroke="#a5a5a5" stroke-width="1.0"/>
<text x="400.00" y="200.60" font-size="8.6" text-anchor="middle" font-weight="normal" fill="#111">BL18</text>
<line x1="381.00" y1="209.00" x2="381.00" y2="281.60" stroke="#3a3a3a" stroke-width="1.0"/>
<line x1="378.50" y1="281.10" x2="381.00" y2="281.10" stroke="#3a3a3a" stroke-width="1.0"/>
<text x="378.00" y="284.16" font-size="8.5" text-anchor="end" font-weight="normal" fill="#111">0</text>
<line x1="378.50" y1="263.20" x2="381.00" y2="263.20" stroke="#3a3a3a" stroke-width="1.0"/>
<text x="378.00" y="266.26" font-size="8.5" text-anchor="end" font-weight="normal" fill="#111">5</text>
<line x1="378.50" y1="245.30" x2="381.00" y2="245.30" stroke="#3a3a3a" stroke-width="1.0"/>
<text x="378.00" y="248.36" font-size="8.5" text-anchor="end" font-weight="normal" fill="#111">10</text>
<line x1="378.50" y1="227.40" x2="381.00" y2="227.40" stroke="#3a3a3a" stroke-width="1.0"/>
<text x="378.00" y="230.46" font-size="8.5" text-anchor="end" font-weight="normal" fill="#111">15</text>
<line x1="378.50" y1="209.50" x2="381.00" y2="209.50" stroke="#3a3a3a" stroke-width="1.0"/>
<text x="378.00" y="212.56" font-size="8.5" text-anchor="end" font-weight="normal" fill="#111">20</text>
<line x1="389.20" y1="239.60" x2="389.20" y2="251.50" stroke="#4a4a4a" stroke-width="1.0"/>
<line x1="386.86" y1="239.60" x2="391.54" y2="239.60" stroke="#4a4a4a" stroke-width="1.0"/>
<rect x="384.00" y="251.50" width="10.40" height="29.60" fill="#050505"/>
<rect x="400.20" y="281.60" width="9.30" height="-0.50" fill="#fff" stroke="#8a8a8a" stroke-width="1.0"/>
<line x1="420.70" y1="242.80" x2="420.70" y2="259.80" stroke="#4a4a4a" stroke-width="1.0"/>
<line x1="418.31" y1="242.80" x2="423.08" y2="242.80" stroke="#4a4a4a" stroke-width="1.0"/>
<rect x="415.90" y="260.30" width="9.60" height="20.80" fill="#a9a9a9" stroke="#7a7a7a" stroke-width="1.0"/>
<line x1="380.50" y1="281.10" x2="427.30" y2="281.10" stroke="#3a3a3a" stroke-width="1.0"/>
<line x1="389.20" y1="281.10" x2="389.20" y2="283.30" stroke="#3a3a3a" stroke-width="1.0"/>
<line x1="404.85" y1="281.10" x2="404.85" y2="283.30" stroke="#3a3a3a" stroke-width="1.0"/>
<line x1="420.70" y1="281.10" x2="420.70" y2="283.30" stroke="#3a3a3a" stroke-width="1.0"/>
<line x1="387.80" y1="233.90" x2="405.10" y2="233.90" stroke="#2a2a2a" stroke-width="1.1"/>
<polygon points="394.30,229.45 394.83,230.47 395.96,230.66 395.16,231.48 395.33,232.62 394.30,232.10 393.27,232.62 393.44,231.48 392.64,230.66 393.77,230.47" fill="#000" stroke="#000" stroke-width="0.5" stroke-linejoin="round"/>
<polygon points="398.60,229.45 399.13,230.47 400.26,230.66 399.46,231.48 399.63,232.62 398.60,232.10 397.57,232.62 397.74,231.48 396.94,230.66 398.07,230.47" fill="#000" stroke="#000" stroke-width="0.5" stroke-linejoin="round"/>
<text x="406.60" y="291.60" font-size="8.4" text-anchor="middle" font-weight="normal" fill="#111">Order V</text>
<text x="367.00" y="243.20" font-size="8.4" text-anchor="middle" font-weight="normal" fill="#111" transform="rotate(-90 367.00 243.20)">Sticking fraction (%)</text>
<text x="488.20" y="200.60" font-size="8.6" text-anchor="middle" font-weight="normal" fill="#111">BL11</text>
<line x1="463.90" y1="209.00" x2="463.90" y2="281.60" stroke="#3a3a3a" stroke-width="1.0"/>
<line x1="461.40" y1="281.10" x2="463.90" y2="281.10" stroke="#3a3a3a" stroke-width="1.0"/>
<text x="460.90" y="284.16" font-size="8.5" text-anchor="end" font-weight="normal" fill="#111">0</text>
<line x1="461.40" y1="263.20" x2="463.90" y2="263.20" stroke="#3a3a3a" stroke-width="1.0"/>
<text x="460.90" y="266.26" font-size="8.5" text-anchor="end" font-weight="normal" fill="#111">5</text>
<line x1="461.40" y1="245.30" x2="463.90" y2="245.30" stroke="#3a3a3a" stroke-width="1.0"/>
<text x="460.90" y="248.36" font-size="8.5" text-anchor="end" font-weight="normal" fill="#111">10</text>
<line x1="461.40" y1="227.40" x2="463.90" y2="227.40" stroke="#3a3a3a" stroke-width="1.0"/>
<text x="460.90" y="230.46" font-size="8.5" text-anchor="end" font-weight="normal" fill="#111">15</text>
<line x1="461.40" y1="209.50" x2="463.90" y2="209.50" stroke="#3a3a3a" stroke-width="1.0"/>
<text x="460.90" y="212.56" font-size="8.5" text-anchor="end" font-weight="normal" fill="#111">20</text>
<line x1="471.60" y1="226.70" x2="471.60" y2="261.10" stroke="#4a4a4a" stroke-width="1.0"/>
<line x1="469.17" y1="226.70" x2="474.03" y2="226.70" stroke="#4a4a4a" stroke-width="1.0"/>
<rect x="466.20" y="261.10" width="10.80" height="20.00" fill="#050505"/>
<rect x="482.50" y="281.60" width="9.50" height="-0.50" fill="#fff" stroke="#8a8a8a" stroke-width="1.0"/>
<line x1="502.90" y1="261.70" x2="502.90" y2="273.60" stroke="#4a4a4a" stroke-width="1.0"/>
<line x1="500.42" y1="261.70" x2="505.38" y2="261.70" stroke="#4a4a4a" stroke-width="1.0"/>
<rect x="497.90" y="274.10" width="10.00" height="7.00" fill="#a9a9a9" stroke="#7a7a7a" stroke-width="1.0"/>
<line x1="463.40" y1="281.10" x2="510.60" y2="281.10" stroke="#3a3a3a" stroke-width="1.0"/>
<line x1="471.60" y1="281.10" x2="471.60" y2="283.30" stroke="#3a3a3a" stroke-width="1.0"/>
<line x1="487.25" y1="281.10" x2="487.25" y2="283.30" stroke="#3a3a3a" stroke-width="1.0"/>
<line x1="502.90" y1="281.10" x2="502.90" y2="283.30" stroke="#3a3a3a" stroke-width="1.0"/>
<text x="489.00" y="291.60" font-size="8.4" text-anchor="middle" font-weight="normal" fill="#111">Order V</text>
<text x="449.50" y="243.20" font-size="8.4" text-anchor="middle" font-weight="normal" fill="#111" transform="rotate(-90 449.50 243.20)">Sticking fraction (%)</text>
</svg>
</body></html>
